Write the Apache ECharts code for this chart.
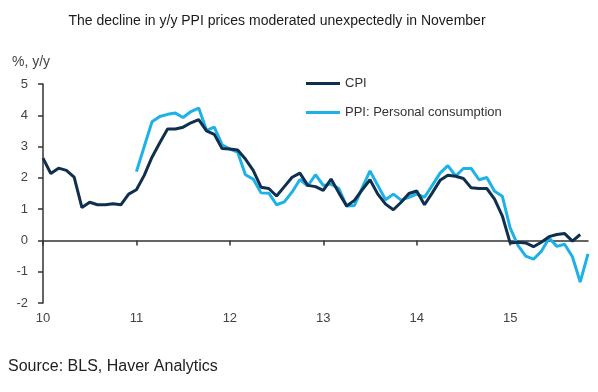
<!DOCTYPE html>
<html>
<head>
<meta charset="utf-8">
<script src="https://cdn.jsdelivr.net/npm/echarts@6/dist/echarts.min.js"></script>
<style>
html,body{margin:0;padding:0;background:#fff;}
#c{width:598px;height:392px;}
</style>
</head>
<body>
<div id="c"></div>
<script>
// Months Jan 2010 .. Nov 2015
const months = [];
for (let y = 2010; y <= 2015; y++) {
  for (let m = 1; m <= 12; m++) {
    if (y === 2015 && m > 11) break;
    months.push(y + '-' + (m < 10 ? '0' + m : m));
  }
}
const yearLabels = ['10', '11', '12', '13', '14', '15'];

const cpi = [
  2.63, 2.14, 2.31, 2.24, 2.02, 1.05, 1.22, 1.14, 1.14, 1.17, 1.14, 1.48,
  1.62, 2.08, 2.66, 3.12, 3.56, 3.56, 3.62, 3.76, 3.86, 3.50, 3.39, 2.94,
  2.92, 2.89, 2.60, 2.24, 1.70, 1.66, 1.42, 1.72, 2.02, 2.15, 1.76, 1.72,
  1.60, 1.96, 1.52, 1.10, 1.28, 1.62, 1.94, 1.48, 1.16, 0.98, 1.22, 1.50,
  1.58, 1.14, 1.52, 1.92, 2.08, 2.05, 1.98, 1.68, 1.66, 1.66, 1.32, 0.78,
  -0.08, -0.06, -0.08, -0.20, -0.06, 0.12, 0.19, 0.22, -0.02, 0.19, null
];

const ppi = [
  null, null, null, null, null, null, null, null, null, null, null, null,
  2.20, 3.00, 3.79, 3.96, 4.03, 4.07, 3.93, 4.12, 4.23, 3.52, 3.62, 3.06,
  2.92, 2.82, 2.10, 1.96, 1.52, 1.51, 1.14, 1.23, 1.55, 1.95, 1.74, 2.10,
  1.76, 1.80, 1.66, 1.10, 1.12, 1.68, 2.22, 1.76, 1.30, 1.48, 1.29, 1.38,
  1.48, 1.38, 1.76, 2.15, 2.39, 2.06, 2.30, 2.30, 1.94, 2.01, 1.57, 1.41,
  0.40, -0.16, -0.50, -0.60, -0.35, 0.08, -0.19, -0.12, -0.52, -1.33, -0.43
];

const chart = echarts.init(document.getElementById('c'), null, {renderer: 'canvas'});
const yearTick = function (idx) { return idx % 12 === 0; };
const font = '"Liberation Sans", Arial, sans-serif';

chart.setOption({
  animation: false,
  backgroundColor: '#ffffff',
  title: {
    text: 'The decline in y/y PPI prices moderated unexpectedly in November',
    left: 272, top: 9, textAlign: 'center',
    textStyle: {fontFamily: font, fontSize: 14, fontWeight: 'normal', color: '#1a1a1a'}
  },
  legend: {
    orient: 'vertical', left: 301, top: 72,
    itemWidth: 34, itemHeight: 3, itemGap: 16, icon: 'rect',
    textStyle: {fontFamily: font, fontSize: 13, color: '#333'},
    data: ['CPI', 'PPI: Personal consumption']
  },
  graphic: [
    {type: 'text', left: 12, top: 55, style: {text: '%, y/y', fontFamily: font, fontSize: 14, fill: '#444'}},
    {type: 'text', left: 8, top: 359, style: {text: 'Source: BLS, Haver Analytics', fontFamily: font, fontSize: 16, fill: '#222'}}
  ],
  grid: {left: 43, right: 10, top: 84, bottom: 89, containLabel: false},
  xAxis: [
    {
      type: 'category', data: months, boundaryGap: false, position: 'bottom',
      axisLine: {show: false, onZero: false},
      axisTick: {show: false},
      axisLabel: {
        interval: yearTick, margin: 9,
        formatter: function (v, i) { return yearLabels[Math.floor(i / 12)] || ''; },
        fontFamily: font, fontSize: 13, color: '#444'
      },
      splitLine: {show: false}
    },
    {
      type: 'category', data: months, boundaryGap: false, position: 'bottom',
      axisLine: {show: true, onZero: true, lineStyle: {color: '#333', width: 1.5}},
      axisTick: {show: true, interval: yearTick, length: 5, lineStyle: {color: '#333', width: 1.5}},
      axisLabel: {show: false},
      splitLine: {show: false}
    }
  ],
  yAxis: {
    type: 'value', min: -2, max: 5, interval: 1,
    axisLine: {show: true, lineStyle: {color: '#333', width: 1.5}},
    axisTick: {show: true, length: 5, lineStyle: {color: '#333', width: 1.5}},
    axisLabel: {margin: 15, fontFamily: font, fontSize: 13, color: '#444'},
    splitLine: {show: false}
  },
  series: [
    {
      name: 'CPI', type: 'line', data: cpi, xAxisIndex: 0, symbol: 'none',
      lineStyle: {color: '#0f2f4d', width: 3}, itemStyle: {color: '#0f2f4d'}, z: 3
    },
    {
      name: 'PPI: Personal consumption', type: 'line', data: ppi, xAxisIndex: 0, symbol: 'none',
      lineStyle: {color: '#1cb2e8', width: 3}, itemStyle: {color: '#1cb2e8'}, z: 2
    }
  ]
});
</script>
</body>
</html>
